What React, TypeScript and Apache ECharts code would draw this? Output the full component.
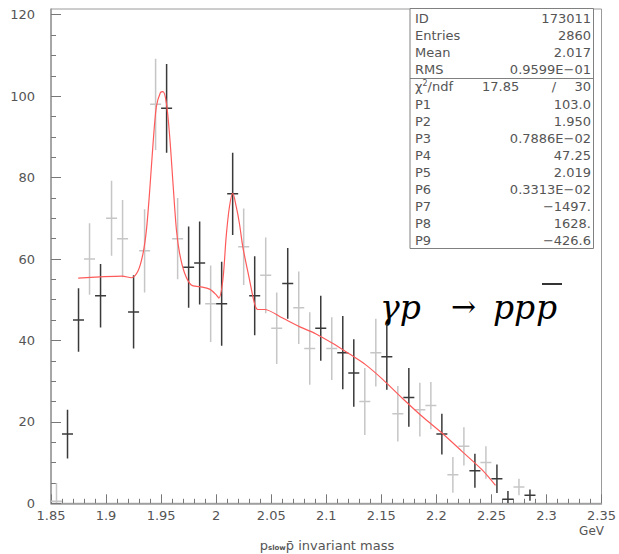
import React, { useEffect, useRef } from "react";
import * as echarts from "echarts";

// Histogram bins (GeV) with counts and errors
const binCenters = [
  1.855, 1.865, 1.875, 1.885, 1.895, 1.905, 1.915, 1.925, 1.935, 1.945, 1.955,
  1.965, 1.975, 1.985, 1.995, 2.005, 2.015, 2.025, 2.035, 2.045, 2.055, 2.065,
  2.075, 2.085, 2.095, 2.105, 2.115, 2.125, 2.135, 2.145, 2.155, 2.165, 2.175,
  2.185, 2.195, 2.205, 2.215, 2.225, 2.235, 2.245, 2.255, 2.265, 2.275, 2.285,
];
const counts = [
  0.5, 17, 45, 60, 51, 70, 65, 47, 62, 98, 97, 65, 58, 59, 49, 49, 76, 63, 51,
  56, 43, 54, 48, 38, 43, 38, 37, 32, 25, 37, 36, 22, 26, 23, 24, 17, 7, 14, 8,
  10, 6, 1, 4, 2,
];
const errors = [
  4.5, 6.0, 7.8, 8.8, 7.8, 9.2, 9.5, 9.0, 10.2, 11.2, 10.9, 10.0, 10.0, 10.2,
  9.4, 10.3, 10.1, 9.4, 9.7, 9.3, 8.8, 8.7, 8.9, 8.9, 8.0, 7.7, 9.0, 8.3, 8.2,
  8.3, 8.1, 6.8, 7.2, 6.6, 5.8, 5.0, 4.4, 4.7, 4.2, 4.0, 3.5, 2.0, 2.0, 1.4,
];
// 1 = drawn dark, 0 = drawn light
const binTone = [
  0, 1, 1, 0, 1, 0, 0, 1, 0, 0, 1, 0, 1, 1, 0, 1, 1, 0, 1, 0, 0, 1, 0, 0, 1, 0,
  1, 1, 0, 0, 1, 0, 1, 0, 0, 1, 0, 0, 1, 0, 1, 1, 0, 1,
];

// Fit curve (two peaks over a smooth background)
const fitX = [
  1.8747, 1.8947, 1.9146, 1.9231, 1.9291, 1.9336, 1.9367, 1.9397, 1.9427,
  1.9457, 1.9494, 1.9517, 1.9548, 1.9578, 1.9608, 1.9639, 1.9668, 1.9714,
  1.9774, 1.985, 1.994, 2.0001, 2.0024, 2.0061, 2.0091, 2.0121, 2.0151, 2.0182,
  2.0212, 2.0242, 2.0303, 2.0348, 2.0378, 2.0438, 2.0604, 2.0755, 2.0907,
  2.1057, 2.1208, 2.1359, 2.151, 2.1691, 2.1872, 2.2053, 2.2235, 2.2416, 2.2537,
];
const fitY = [
  55.3, 55.6, 55.8, 55.4, 57.1, 61.4, 67.2, 77.0, 88.4, 97.4, 100.9, 101.1,
  98.3, 90.1, 78.6, 67.2, 61.4, 56.5, 53.6, 53.2, 52.6, 51.2, 50.4, 54.9, 65.5,
  72.9, 76.1, 72.9, 68.6, 63.0, 54.9, 49.1, 47.6, 47.6, 45.5, 43.4, 41.6, 39.3,
  36.7, 34.0, 30.5, 25.8, 21.3, 17.2, 12.7, 8.2, 4.4,
];

// Axis ticks
const yMajorTicks = [0, 20, 40, 60, 80, 100, 120];
const yMinorTicks = [
  5, 10, 15, 25, 30, 35, 45, 50, 55, 65, 70, 75, 85, 90, 95, 105, 110, 115,
];

// Statistics box rows
const statLabels = ["ID", "Entries", "Mean", "RMS"];
const statValues = ["173011", "2860", "2.017", "0.9599E\u221201"];
const parLabels = ["P1", "P2", "P3", "P4", "P5", "P6", "P7", "P8", "P9"];
const parValues = [
  "103.0",
  "1.950",
  "0.7886E\u221202",
  "47.25",
  "2.019",
  "0.3313E\u221202",
  "\u22121497.",
  "1628.",
  "\u2212426.6",
];
const chi2Value = "17.85";
const ndfValue = "30";

const FONT = "'DejaVu Sans', sans-serif";
const TEXT_COLOR = "#555";

export default function App() {
  const ref = useRef<HTMLDivElement>(null);

  useEffect(() => {
    if (!ref.current) return;
    const chart = echarts.init(ref.current, undefined, { renderer: "svg" });

    const binData = binCenters.map((c, i) => [c, counts[i], errors[i], binTone[i]]);
    const fitData = fitX.map((x, i) => [x, fitY[i]]);

    // stats box
    const boxX = 410;
    const boxY = 8.5;
    const boxW = 183.5;
    const boxH = 240;
    const rowY0 = 18.5;
    const rowDy = 17.1;
    const labelX = 415;
    const valueX = 591;
    const textStyle = (extra: any) => ({
      fontFamily: FONT,
      fontSize: 13,
      fill: TEXT_COLOR,
      verticalAlign: "middle",
      ...extra,
    });

    const statElems: any[] = [];
    statLabels.forEach((l, i) => {
      statElems.push({
        type: "text",
        x: labelX,
        y: rowY0 + i * rowDy,
        style: textStyle({ text: l, align: "left" }),
      });
      statElems.push({
        type: "text",
        x: valueX,
        y: rowY0 + i * rowDy,
        style: textStyle({ text: statValues[i], align: "right" }),
      });
    });
    const chiY = rowY0 + 4 * rowDy;
    statElems.push(
      {
        type: "text",
        x: labelX,
        y: chiY,
        style: textStyle({
          text: "{g|\u03c7}{s|2}/ndf",
          align: "left",
          rich: {
            g: { fontFamily: FONT, fontSize: 13, fill: TEXT_COLOR },
            s: { fontFamily: FONT, fontSize: 8, fill: TEXT_COLOR, verticalAlign: "top", padding: [0, 0, 6, 0] },
          },
        }),
      },
      { type: "text", x: 482, y: chiY, style: textStyle({ text: chi2Value, align: "left" }) },
      { type: "text", x: 554, y: chiY, style: textStyle({ text: "/", align: "center" }) },
      { type: "text", x: valueX, y: chiY, style: textStyle({ text: ndfValue, align: "right" }) }
    );
    parLabels.forEach((l, i) => {
      const y = rowY0 + (5 + i) * rowDy;
      statElems.push(
        { type: "text", x: labelX, y, style: textStyle({ text: l, align: "left" }) },
        { type: "text", x: valueX, y, style: textStyle({ text: parValues[i], align: "right" }) }
      );
    });

    const reactionY = 307;
    const serifItalic = (text: string, x: number) => ({
      type: "text",
      x,
      y: reactionY,
      style: {
        text,
        fontFamily: "'DejaVu Serif', serif",
        fontStyle: "italic",
        fontSize: 33,
        fill: "#000",
        verticalAlign: "middle",
        align: "left",
      },
    });

    const option: any = {
      animation: false,
      backgroundColor: "#fff",
      grid: {
        left: 51,
        top: 9,
        width: 552,
        height: 494.3,
        show: true,
        borderColor: "#9a9a9a",
        borderWidth: 1,
        backgroundColor: "transparent",
      },
      xAxis: {
        type: "value",
        min: 1.85,
        max: 2.35,
        interval: 0.05,
        axisLine: { show: true, lineStyle: { color: "#9a9a9a", width: 1.5 } },
        axisTick: { show: true, inside: true, length: 9, lineStyle: { color: "#777", width: 1 } },
        minorTick: { show: true, splitNumber: 5, length: 4.5, lineStyle: { color: "#777", width: 1 } },
        splitLine: { show: false },
        minorSplitLine: { show: false },
        axisLabel: {
          color: TEXT_COLOR,
          fontFamily: FONT,
          fontSize: 13,
          margin: 6,
          showMinLabel: true,
          showMaxLabel: true,
        },
      },
      yAxis: [
        {
          type: "value",
          min: 0,
          max: 121.4,
          axisLine: { show: true, lineStyle: { color: "#9a9a9a", width: 1.5 } },
          axisTick: {
            show: true,
            inside: true,
            length: 10,
            customValues: yMajorTicks,
            lineStyle: { color: "#777", width: 1 },
          },
          axisLabel: {
            customValues: yMajorTicks,
            color: TEXT_COLOR,
            fontFamily: FONT,
            fontSize: 13,
            margin: 16,
          },
          splitLine: { show: false },
        },
        {
          type: "value",
          min: 0,
          max: 121.4,
          position: "left",
          axisLine: { show: false },
          axisTick: {
            show: true,
            inside: true,
            length: 5,
            customValues: yMinorTicks,
            lineStyle: { color: "#777", width: 1 },
          },
          axisLabel: { show: false },
          splitLine: { show: false },
        },
      ],
      series: [
        {
          type: "custom",
          name: "bins",
          coordinateSystem: "cartesian2d",
          data: binData,
          clip: true,
          renderItem: (params: any, api: any) => {
            const x = api.value(0);
            const y = api.value(1);
            const e = api.value(2);
            const tone = api.value(3);
            const stroke = tone ? "#3a3a3a" : "#c6c6c6";
            const lo = Math.max(0, y - e);
            const hi = y + e;
            const top = api.coord([x, hi]);
            const bot = api.coord([x, lo]);
            const l = api.coord([x - 0.005, y]);
            const r = api.coord([x + 0.005, y]);
            const style = { stroke, lineWidth: 1.5, fill: "none" };
            return {
              type: "group",
              children: [
                { type: "line", shape: { x1: top[0], y1: top[1], x2: bot[0], y2: bot[1] }, style },
                { type: "line", shape: { x1: l[0], y1: l[1], x2: r[0], y2: r[1] }, style },
              ],
            };
          },
          z: 2,
        },
        {
          type: "line",
          name: "fit",
          data: fitData,
          showSymbol: false,
          smooth: 0.3,
          lineStyle: { color: "#ff5a5a", width: 1.2 },
          z: 3,
        },
      ],
      graphic: [
        {
          type: "rect",
          shape: { x: boxX, y: boxY, width: boxW, height: boxH },
          style: { fill: "#fff", stroke: "#808080", lineWidth: 1 },
          z: 10,
        },
        {
          type: "line",
          shape: { x1: boxX, y1: 78.5, x2: boxX + boxW, y2: 78.5 },
          style: { stroke: "#808080", lineWidth: 1 },
          z: 10,
        },
        ...statElems.map((e) => ({ ...e, z: 11 })),
        serifItalic("\u03b3p", 380),
        {
          type: "text",
          x: 451,
          y: reactionY - 1,
          style: {
            text: "\u2192",
            fontFamily: "'DejaVu Serif', serif",
            fontSize: 30,
            fill: "#000",
            verticalAlign: "middle",
            align: "left",
          },
        },
        serifItalic("pp", 493),
        serifItalic("p", 536),
        {
          type: "line",
          shape: { x1: 542, y1: 284, x2: 562, y2: 284 },
          style: { stroke: "#000", lineWidth: 1.6 },
        },
        {
          type: "text",
          x: 604,
          y: 531,
          style: {
            text: "GeV",
            fontFamily: FONT,
            fontSize: 12,
            fill: TEXT_COLOR,
            align: "right",
            verticalAlign: "middle",
          },
        },
        {
          type: "text",
          x: 327,
          y: 545,
          style: {
            text: "{p|p}{s|slow}{p|p\u0304 invariant mass}",
            align: "center",
            verticalAlign: "middle",
            rich: {
              p: { fontFamily: FONT, fontSize: 13, fill: TEXT_COLOR },
              s: { fontFamily: FONT, fontSize: 7, fontWeight: "bold", fill: TEXT_COLOR, padding: [6, 0, 0, 0] },
            },
          },
        },
      ],
    };

    chart.setOption(option);
    return () => chart.dispose();
  }, []);

  return (
    <div
      ref={ref}
      style={{ position: "fixed", left: 0, top: 0, width: 619, height: 554, background: "#fff" }}
    />
  );
}
